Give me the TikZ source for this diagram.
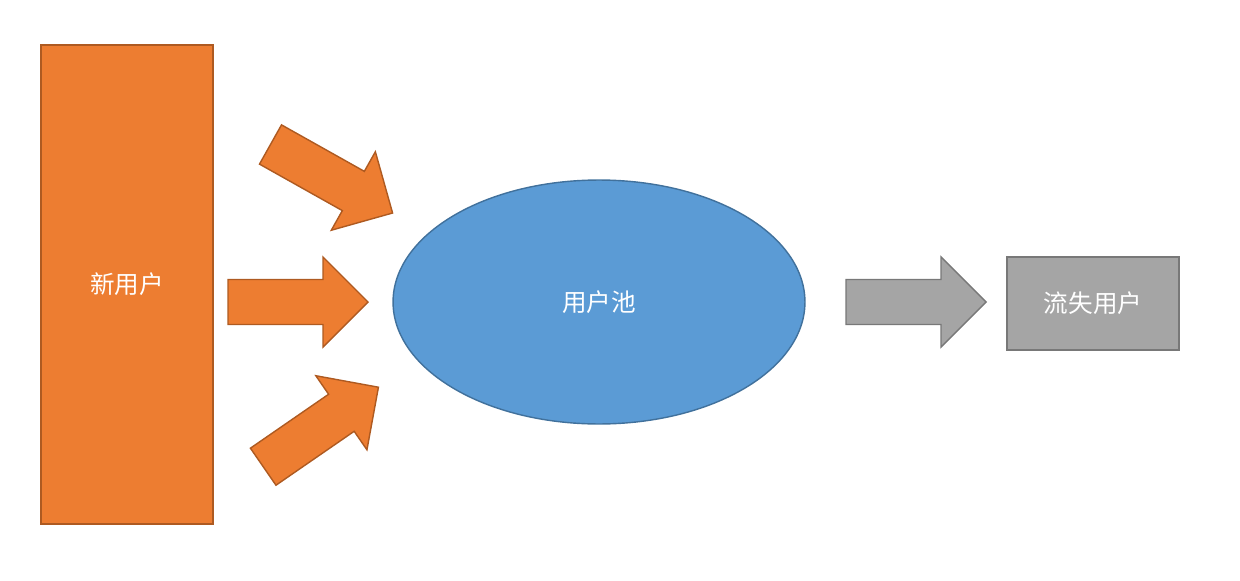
\documentclass[tikz,border=0pt]{standalone}
\usepackage{fontspec}
\newfontfamily\cjk{Noto Sans CJK SC}
\usepackage{tikz}
\usetikzlibrary{shapes.geometric}

\definecolor{neworange}{HTML}{ED7D31}
\definecolor{neworangeline}{HTML}{AE5A21}
\definecolor{poolblue}{HTML}{5B9BD5}
\definecolor{poolblueline}{HTML}{41719C}
\definecolor{lostgray}{HTML}{A5A5A5}
\definecolor{lostgrayline}{HTML}{787878}

% block arrow, 140 long, shaft 45 wide, head 90 wide
\newcommand{\blockarrow}{(0,-22.5) -- (95,-22.5) -- (95,-45) -- (140,0) -- (95,45) -- (95,22.5) -- (0,22.5) -- cycle}

\begin{document}
\begin{tikzpicture}[x=0.02cm, y=-0.02cm,
    label/.style = {text=white, font=\cjk\fontsize{14}{16}\selectfont},
    box/.style = {draw, line width=0.8pt, inner sep=0pt},
    inarrow/.style = {draw=neworangeline, fill=neworange, line width=0.8pt},
    outarrow/.style = {draw=lostgrayline, fill=lostgray, line width=0.8pt}]
    \useasboundingbox (0,0) rectangle (1240,581);

    \node[box, label, draw=neworangeline, fill=neworange,
          minimum width=3.44cm, minimum height=9.58cm] (new) at (127,284.5) {新用户};
    \node[box, label, ellipse, draw=poolblueline, fill=poolblue,
          minimum width=8.24cm, minimum height=4.88cm] (pool) at (599,302) {用户池};
    \node[box, label, draw=lostgrayline, fill=lostgray,
          minimum width=3.44cm, minimum height=1.86cm] (lost) at (1093,303.5) {流失用户};

    \begin{scope}[shift={(270.5,144.5)}, rotate=-29.3]
    \filldraw[inarrow] \blockarrow;
    \end{scope}
    \begin{scope}[shift={(228,302)}]
    \filldraw[inarrow] \blockarrow;
    \end{scope}
    \begin{scope}[shift={(263.2,466.7)}, rotate=34.6]
    \filldraw[inarrow] \blockarrow;
    \end{scope}

    \begin{scope}[shift={(846,302)}]
    \filldraw[outarrow] \blockarrow;
    \end{scope}
\end{tikzpicture}
\end{document}
